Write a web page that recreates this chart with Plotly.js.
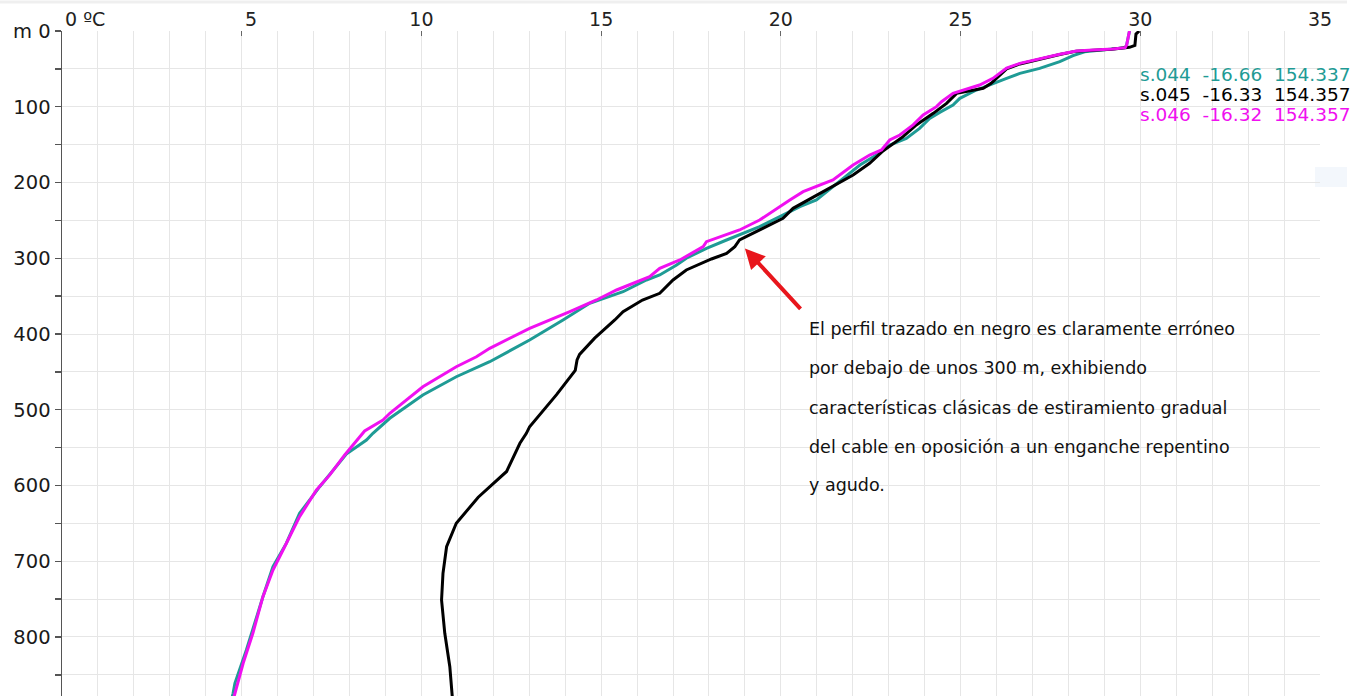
<!DOCTYPE html>
<html>
<head>
<meta charset="utf-8">
<script src="https://cdn.plot.ly/plotly-3.0.1.min.js"></script>
<style>
html,body{margin:0;padding:0;background:#fff;}
#chart{width:1361px;height:696px;}
</style>
</head>
<body>
<div id="chart"></div>
<script>
// ---------- DATA ----------
const seriesNames = ["s.044", "s.045", "s.046"];
const seriesLat = ["-16.66", "-16.33", "-16.32"];
const seriesLon = ["154.337", "154.357", "154.357"];

// s.044 (teal)
const depth_s044 = [0, 18.5, 22, 23.8, 25, 27.5, 32.6, 40.5, 49.3, 55.9, 62.5, 69, 77.9, 88.9, 97.7, 107.4, 115.3, 128.5, 141.7, 150.5, 161, 176.9, 205.5, 223.1, 231.9, 242.9, 258.3, 275.9, 286.9, 300, 308.9, 322.1, 328.7, 344.2, 359.5, 381.5, 407.9, 436.6, 456.4, 480.5, 511.3, 531.1, 540, 558.5, 579.5, 601.6, 636.8, 676.4, 707.2, 746.8, 817.2, 861.1, 874.3, 880];
const temp_s044 = [29.7, 29.62, 29.58, 29.24, 28.9, 28.45, 28.13, 27.76, 27.2, 26.65, 26.28, 25.9, 25.44, 24.98, 24.79, 24.42, 24.14, 23.86, 23.49, 23.03, 22.75, 22.2, 21.45, 20.99, 20.53, 20.06, 19.41, 18.49, 17.93, 17.37, 17.1, 16.63, 16.26, 15.61, 14.68, 13.94, 13.01, 11.9, 10.97, 10.04, 9.12, 8.65, 8.47, 7.91, 7.54, 7.17, 6.61, 6.24, 5.87, 5.59, 5.13, 4.81, 4.76, 4.73];

// s.045 (black)
const depth_s045 = [0, 4, 19, 21.5, 24, 25.3, 26.6, 31, 37.5, 43.5, 50, 56, 62, 69, 75.7, 82.3, 95.5, 108.7, 124, 139.5, 158, 174.7, 190.1, 209.9, 234.1, 247.3, 262.7, 275.9, 284.7, 293.5, 301, 315.5, 328.7, 346.3, 355.1, 370.5, 381.5, 405.5, 427, 434.3, 448, 480, 522.4, 531.1, 544.3, 581.5, 615.5, 649.9, 680.8, 715.9, 751.2, 795.1, 839.2, 874.3, 880];
const temp_s045 = [29.97, 29.88, 29.85, 29.7, 29.2, 28.69, 28.22, 27.76, 27.2, 26.65, 26.28, 26.15, 26.0, 25.85, 25.63, 24.89, 24.61, 24.24, 23.77, 23.4, 22.85, 22.47, 22.01, 21.27, 20.34, 20.06, 19.41, 18.85, 18.72, 18.49, 18.07, 17.37, 17.0, 16.63, 16.15, 15.61, 15.38, 14.82, 14.4, 14.33, 14.28, 13.76, 13.01, 12.92, 12.74, 12.37, 11.58, 10.97, 10.7, 10.6, 10.56, 10.65, 10.79, 10.85, 10.86];

// s.046 (magenta)
const depth_s046 = [0, 18.5, 22, 23.8, 25, 26.4, 30.8, 37, 42.7, 49, 55.9, 62.5, 71.3, 77.9, 82.3, 93.3, 99.9, 110.9, 124, 137.3, 143.9, 157, 163.7, 176.9, 196.7, 212.1, 223.1, 249.5, 262.7, 278.1, 284.7, 302.3, 313.3, 324.4, 341.9, 355.1, 370.5, 392.5, 418.9, 430, 443.2, 469.6, 504.7, 513.5, 528, 560, 586, 605.9, 641.2, 685.1, 711.6, 746.8, 795.1, 834.7, 874.3, 880];
const temp_s046 = [29.7, 29.62, 29.58, 29.24, 28.69, 28.22, 27.76, 27.2, 26.65, 26.28, 26.09, 25.9, 25.53, 25.07, 24.79, 24.47, 24.33, 23.96, 23.68, 23.31, 23.03, 22.8, 22.47, 22.01, 21.45, 20.62, 20.25, 19.41, 18.85, 17.93, 17.84, 17.19, 16.63, 16.35, 15.43, 14.87, 14.13, 13.01, 11.9, 11.53, 10.97, 10.04, 9.12, 8.93, 8.42, 7.86, 7.45, 7.08, 6.61, 6.15, 5.87, 5.59, 5.31, 5.04, 4.81, 4.78];

// ticks
const xTickVals = [0, 5, 10, 15, 20, 25, 30, 35];
const xTickText = ["0 ºC", "5", "10", "15", "20", "25", "30", "35"];
const yTickVals = [0, 100, 200, 300, 400, 500, 600, 700, 800];
const yTickText = ["m 0", "100", "200", "300", "400", "500", "600", "700", "800"];

// annotation text
const noteLines = [
  "El perfil trazado en negro es claramente erróneo",
  "por debajo de unos 300 m, exhibiendo",
  "características clásicas de estiramiento gradual",
  "del cable en oposición a un enganche repentino",
  "y agudo."
];
const arrowTarget = {temp: 19.0, depth: 287};

// ---------- STYLE ----------
const colors = ["#1f9b95", "#000000", "#f010f0"];
const FONT = "DejaVu Sans";
const W = 1361, H = 696;
const M = {l: 62, r: 41, t: 31, b: 0};
const plotH = H - M.t - M.b;
const yMax = 877.9;
function pyToDepth(py){ return (py - M.t) / plotH * yMax; }

const traces = [
  {x: temp_s044, y: depth_s044, name: seriesNames[0], mode: "lines", line: {color: colors[0], width: 3}},
  {x: temp_s045, y: depth_s045, name: seriesNames[1], mode: "lines", line: {color: colors[1], width: 3}},
  {x: temp_s046, y: depth_s046, name: seriesNames[2], mode: "lines", line: {color: colors[2], width: 3}}
];

const annotations = [];
// custom first two x labels (left aligned at tick)
for (let i = 0; i < 2; i++) {
  annotations.push({x: xTickVals[i], y: 1, xref: "x", yref: "paper", yshift: 12,
    text: xTickText[i], showarrow: false, xanchor: "left", yanchor: "middle", xshift: 1,
    font: {family: FONT, size: 19, color: "#222"}});
}
// legend-like labels
const legY = [74, 94, 114];
const nb = "\u00a0\u00a0";
for (let i = 0; i < 3; i++) {
  annotations.push({x: 29.93, y: pyToDepth(legY[i]), xref: "x", yref: "y",
    text: seriesNames[i] + nb + seriesLat[i] + nb + seriesLon[i], showarrow: false,
    xanchor: "left", yanchor: "middle", font: {family: FONT, size: 18.5, color: colors[i]}});
}
// note lines
const noteY = [329, 368, 407.5, 446.5, 485];
noteLines.forEach((t, i) => {
  annotations.push({x: 20.72, y: pyToDepth(noteY[i]), xref: "x", yref: "y", text: t,
    showarrow: false, xanchor: "left", yanchor: "middle",
    font: {family: FONT, size: 17.5, color: "#111"}});
});
// arrow
annotations.push({x: arrowTarget.temp, y: arrowTarget.depth, xref: "x", yref: "y", text: "",
  showarrow: true, arrowhead: 2, arrowsize: 1, arrowwidth: 4, arrowcolor: "#e8161c",
  ax: 57, ay: 62, axref: "pixel", ayref: "pixel"});

const layout = {
  width: W, height: H,
  margin: M,
  paper_bgcolor: "#fff", plot_bgcolor: "#fff",
  showlegend: false,
  font: {family: FONT, size: 18.5, color: "#222"},
  xaxis: {
    side: "top", range: [0, 35], tickmode: "array", tickvals: xTickVals,
    ticktext: xTickText.map((t, i) => i < 2 ? "" : t),
    ticks: "inside", ticklen: 5, tickcolor: "#666", tickwidth: 1,
    showgrid: true, gridcolor: "#e6e6e6", gridwidth: 1, zeroline: false, showline: false,
    tickfont: {family: FONT, size: 19, color: "#222"},
    minor: {tickmode: "linear", tick0: 0, dtick: 1, showgrid: true, gridcolor: "#e6e6e6", gridwidth: 1, ticks: ""}
  },
  yaxis: {
    range: [yMax, 0], tickmode: "array", tickvals: yTickVals, ticktext: yTickText,
    ticks: "outside", ticklen: 6, tickcolor: "#555", tickwidth: 1.3,
    showgrid: true, gridcolor: "#e6e6e6", gridwidth: 1, zeroline: false,
    showline: true, linecolor: "#555", linewidth: 1.5,
    tickfont: {family: FONT, size: 19.5, color: "#1a1a1a"},
    minor: {tickmode: "linear", tick0: 0, dtick: 50, showgrid: true, gridcolor: "#e6e6e6", gridwidth: 1,
      ticks: "outside", ticklen: 6, tickcolor: "#555", tickwidth: 1.3}
  },
  shapes: [
    {type: "line", xref: "paper", yref: "paper", x0: -M.l / (W - M.l - M.r), x1: (1347 - M.l) / (W - M.l - M.r),
     y0: 1 + 29 / plotH, y1: 1 + 29 / plotH, line: {color: "#efefef", width: 3}},
    {type: "rect", xref: "paper", yref: "paper", x0: (1315 - M.l) / (W - M.l - M.r), x1: (1347 - M.l) / (W - M.l - M.r),
     y0: 1 - (187 - M.t) / plotH, y1: 1 - (167 - M.t) / plotH, fillcolor: "#f3f7fc", line: {width: 0}, layer: "below"}
  ],
  annotations: annotations
};

Plotly.newPlot("chart", traces, layout, {staticPlot: true, displayModeBar: false});
</script>
</body>
</html>
